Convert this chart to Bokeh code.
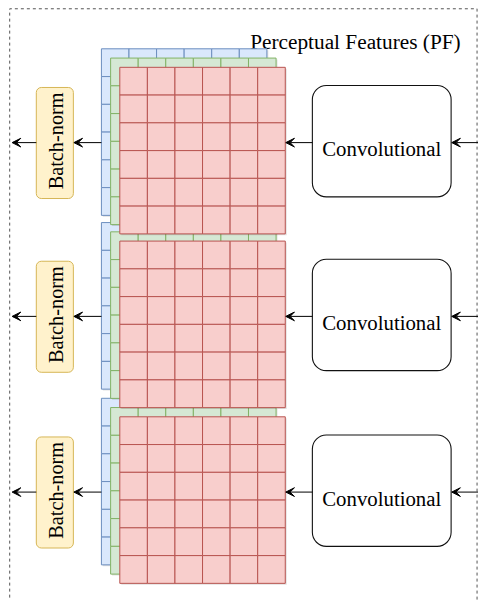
import math
from bokeh.plotting import figure
from bokeh.models import Range1d, Arrow, VeeHead, ColumnDataSource
from bokeh.core.properties import value
from bokeh.embed import file_html
from bokeh.resources import INLINE

# ---- content ----
title_text = "Perceptual Features (PF)"
conv_labels = ["Convolutional", "Convolutional", "Convolutional"]
norm_labels = ["Batch-norm", "Batch-norm", "Batch-norm"]
grid_cells = 6                       # 6 x 6 feature map cells per layer
layer_names = ["blue", "green", "red"]
layer_fill = ["#dae8fc", "#d5e8d4", "#f8cecc"]
layer_line = ["#6c8ebf", "#82b366", "#b85450"]

# ---- layout (reference pixel coordinates) ----
block_top = [68.6, 247.0, 427.4]      # top of the front (red) layer of each block
layer_shift = [-19.0, -9.5, 0.0]      # offset of each layer from the red one
red_left = 123.3
cell = 28.5
map_size = cell * grid_cells

W, H = 478, 600
REF_W, REF_H = 494, 616
k = W / REF_W   # screen-px scale for fonts / head sizes

p = figure(width=W, height=H, x_range=Range1d(0, REF_W), y_range=Range1d(REF_H, 0),
           output_backend="svg", toolbar_location=None, min_border=0,
           x_axis_location=None, y_axis_location=None, outline_line_color=None,
           background_fill_color="white", border_fill_color="white")
p.grid.visible = False

# dashed frame
p.line(x=[9.5, 9.5, 492.5, 492.5], y=[650, 8.5, 8.5, 650], line_color="#555555",
       line_width=1, line_dash="3 3")

p.text(x=[258], y=[42.5], text=[title_text], text_font=value("Liberation Serif"),
       text_font_size=f"{22 * k:.1f}px", text_align="left", text_baseline="alphabetic",
       text_color="black")

# feature map stacks: all blue, then green, then red
for li in range(len(layer_names)):
    for bt in block_top:
        ox = red_left + layer_shift[li]
        oy = bt + layer_shift[li]
        p.quad(left=[ox + 1.5], right=[ox + map_size + 1.5], top=[oy + 1.5],
               bottom=[oy + map_size + 1.5], fill_color="#000000", fill_alpha=0.12,
               line_color=None)
        lefts, rights, tops, bottoms = [], [], [], []
        for r in range(grid_cells):
            for c in range(grid_cells):
                lefts.append(ox + c * cell)
                rights.append(ox + (c + 1) * cell)
                tops.append(oy + r * cell)
                bottoms.append(oy + (r + 1) * cell)
        p.quad(left=lefts, right=rights, top=tops, bottom=bottoms,
               fill_color=layer_fill[li], line_color=layer_line[li], line_width=1)

# boxes
for i, bt in enumerate(block_top):
    p.quad(left=[322.3], right=[465.7], top=[bt + 18.7], bottom=[bt + 133.0],
           fill_color="white", line_color="#111111", line_width=1.1, border_radius=14)
    p.text(x=[394], y=[bt + 83.6], text=[conv_labels[i]], text_font=value("Liberation Serif"),
           text_font_size=f"{21.5 * k:.1f}px", text_align="center", text_baseline="alphabetic",
           text_color="black")
    p.quad(left=[37.0], right=[75.3], top=[bt + 20.7], bottom=[bt + 134.7],
           fill_color="#fff2cc", line_color="#d6b656", line_width=1, border_radius=5)
    p.text(x=[57.3], y=[bt + 75.5], text=[norm_labels[i]], text_font=value("Liberation Serif"),
           text_font_size=f"{21 * k:.1f}px", text_align="center", text_baseline="middle",
           angle=math.pi / 2, text_color="black")

# arrows
xs, xe, ys = [], [], []
for bt in block_top:
    ay = bt + 77.3
    for a, b in [(500.0, 466.3), (322.3, 294.8), (104.3, 75.8), (37.0, 12.0)]:
        xs.append(a); xe.append(b); ys.append(ay)
src = ColumnDataSource(dict(x0=xs, x1=xe, y=ys))
p.add_layout(Arrow(end=VeeHead(size=9 * k, fill_color="black", line_color="black", line_width=1),
                   x_start="x0", y_start="y", x_end="x1", y_end="y", source=src,
                   line_color="black", line_width=1))

open("out.html", "w").write(file_html(p, INLINE))
